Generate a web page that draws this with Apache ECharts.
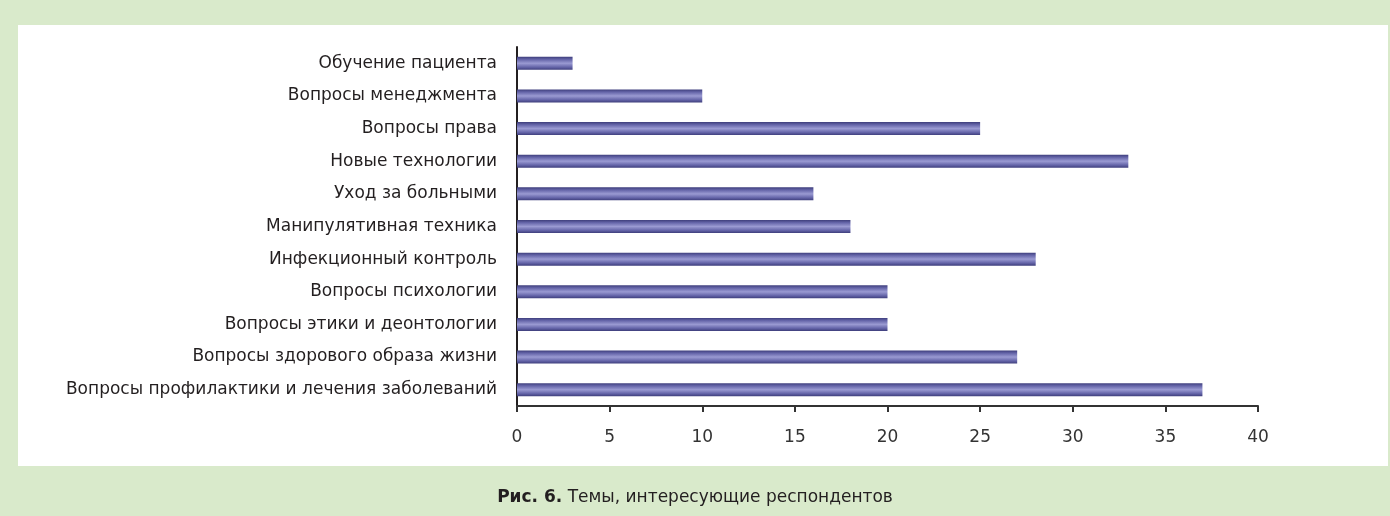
<!DOCTYPE html>
<html>
<head>
<meta charset="utf-8">
<script src="https://cdn.jsdelivr.net/npm/echarts@6/dist/echarts.min.js"></script>
<style>
  html, body { margin: 0; padding: 0; background: #d9eacb; }
  #chart { width: 1390px; height: 516px; }
</style>
</head>
<body>
<div id="chart"></div>
<script>
// темы (снизу вверх, как на оси категорий)
var topics = [
  'Вопросы профилактики и лечения заболеваний',
  'Вопросы здорового образа жизни',
  'Вопросы этики и деонтологии',
  'Вопросы психологии',
  'Инфекционный контроль',
  'Манипулятивная техника',
  'Уход за больными',
  'Новые технологии',
  'Вопросы права',
  'Вопросы менеджмента',
  'Обучение пациента'
];
var counts = [37, 27, 20, 20, 28, 18, 16, 33, 25, 10, 3];
var axisTicks = [0, 5, 10, 15, 20, 25, 30, 35, 40];

var FONT = '"DejaVu Sans", sans-serif';

// градиент полосы: тёмные края, светлая середина
var barColor = new echarts.graphic.LinearGradient(0, 0, 0, 1, [
  { offset: 0, color: '#3e3e7c' },
  { offset: 0.2, color: '#6464a8' },
  { offset: 0.5, color: '#9a9ad2' },
  { offset: 0.8, color: '#6464a8' },
  { offset: 1, color: '#3e3e7c' }
]);

var chart = echarts.init(document.getElementById('chart'));
chart.setOption({
  backgroundColor: '#d9eacb',
  animation: false,
  graphic: [
    {
      type: 'rect',
      z: -10,
      shape: { x: 18, y: 25, width: 1370, height: 441 },
      style: { fill: '#ffffff' }
    },
    {
      type: 'text',
      left: 'center',
      top: 489,
      style: {
        rich: {
          b: { fontWeight: 'bold', fontSize: 17, fontFamily: FONT, fill: '#231f20' },
          n: { fontSize: 17, fontFamily: FONT, fill: '#231f20' }
        },
        text: '{b|Рис. 6.}{n| Темы, интересующие респондентов}'
      }
    }
  ],
  grid: { left: 517, right: 132, top: 47, bottom: 110 },
  xAxis: {
    type: 'value',
    min: axisTicks[0],
    max: axisTicks[axisTicks.length - 1],
    interval: 5,
    axisLine: { show: true, lineStyle: { color: '#333', width: 2 } },
    axisTick: { show: true, length: 6, lineStyle: { color: '#333', width: 2 } },
    axisLabel: { color: '#333', fontSize: 17, fontFamily: FONT, margin: 23 },
    splitLine: { show: false }
  },
  yAxis: {
    type: 'category',
    data: topics,
    axisLine: { show: true, lineStyle: { color: '#231f20', width: 2 } },
    axisTick: { show: false },
    axisLabel: { color: '#231f20', fontSize: 17, fontFamily: FONT, margin: 20 }
  },
  series: [{
    type: 'bar',
    data: counts,
    barWidth: 13,
    itemStyle: { color: barColor }
  }]
});
</script>
</body>
</html>
